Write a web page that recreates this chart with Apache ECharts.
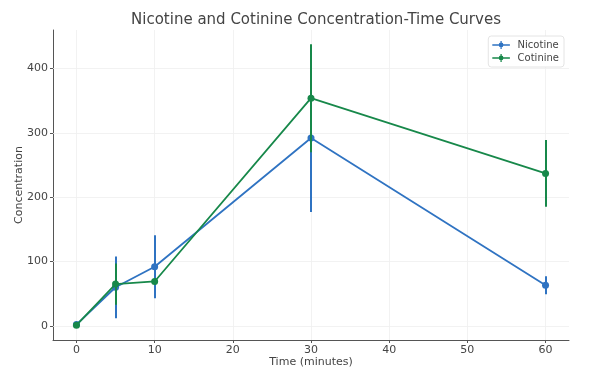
<!DOCTYPE html>
<html>
<head>
<meta charset="utf-8">
<script src="https://cdn.jsdelivr.net/npm/echarts@6/dist/echarts.min.js"></script>
<style>html,body{margin:0;padding:0;background:#fff;}#c{width:606px;height:375px;}</style>
</head>
<body>
<div id="c"></div>
<script>
const time = [0, 5, 10, 30, 60];
const nicotine = [2, 60, 92, 292, 63];
const nicotineErr = [1, 48, 49, 115, 14];
const cotinine = [1, 65, 69, 354, 237];
const cotinineErr = [1, 32, 5, 84, 52];
const xTicks = [0, 10, 20, 30, 40, 50, 60];
const yTicks = [0, 100, 200, 300, 400];

const blue = '#2f73c2';
const green = '#17884a';
const font = 'DejaVu Sans';

function pts(xs, ys) { return xs.map((x, i) => [x, ys[i]]); }
function errData(xs, ys, es) { return xs.map((x, i) => [x, ys[i] - es[i], ys[i] + es[i]]); }

function errSeries(name, color, xs, ys, es, z) {
  return {
    type: 'custom', name: name, z: z, zlevel: 1, silent: true,
    data: errData(xs, ys, es),
    encode: { x: 0, y: [1, 2] },
    renderItem: function (params, api) {
      const a = api.coord([api.value(0), api.value(1)]);
      const b = api.coord([api.value(0), api.value(2)]);
      const x = Math.round(a[0]);
      return { type: 'line', shape: { x1: x, y1: a[1], x2: x, y2: b[1] },
        style: { stroke: color, lineWidth: 2 } };
    }
  };
}
function lineSeries(name, color, xs, ys, z) {
  return {
    type: 'line', name: name, z: z, zlevel: 1, data: pts(xs, ys),
    symbol: 'circle', symbolSize: 7, showSymbol: true,
    lineStyle: { color: color, width: 1.8 },
    itemStyle: { color: color },
    animation: false
  };
}

const gridLines = {
  type: 'line', data: [], silent: true, z: 0, zlevel: 0,
  markLine: {
    silent: true, symbol: 'none', label: { show: false }, animation: false,
    lineStyle: { color: '#efefef', width: 0.8, type: 'solid' },
    data: xTicks.map(v => ({ xAxis: v })).concat(yTicks.map(v => ({ yAxis: v })))
  }
};

const icon = 'path://M0,4.2 L22,4.2 L22,5.8 L0,5.8 Z M10.2,0 L11.8,0 L11.8,10 L10.2,10 Z M14,5 A3,3 0 1 1 8,5 A3,3 0 1 1 14,5 Z';

const chart = echarts.init(document.getElementById('c'), null, { renderer: 'canvas' });
chart.setOption({
  animation: false,
  backgroundColor: '#fff',
  textStyle: { fontFamily: font },
  title: {
    text: 'Nicotine and Cotinine Concentration-Time Curves',
    left: 311, textAlign: 'center', top: 8,
    textStyle: { fontFamily: font, fontSize: 15, fontWeight: 'normal', color: '#444' }
  },
  legend: {
    right: 42, top: 36, orient: 'vertical', zlevel: 2,
    data: [{ name: 'Nicotine', icon: icon, itemStyle: { color: blue } },
           { name: 'Cotinine', icon: icon, itemStyle: { color: green } }],
    itemWidth: 19, itemHeight: 8, itemGap: 3,
    padding: [4, 5, 4, 4],
    borderColor: '#e4e4e4', borderWidth: 1, borderRadius: 3,
    backgroundColor: '#fff',
    textStyle: { fontFamily: font, fontSize: 10, color: '#444', padding: [0, 0, 0, 2] }
  },
  grid: { left: 53, right: 37, top: 30, bottom: 35 },
  xAxis: {
    type: 'value', min: -3, max: 63,
    name: 'Time (minutes)', nameLocation: 'middle', nameGap: 17, nameMoveOverlap: false,
    nameTextStyle: { fontFamily: font, fontSize: 11, color: '#444' },
    axisLine: { show: true, onZero: false, lineStyle: { color: '#555', width: 1 } },
    axisTick: { show: true, length: 3, customValues: xTicks, lineStyle: { color: '#555' } },
    axisLabel: { customValues: xTicks, fontFamily: font, fontSize: 11, color: '#444', margin: 5 },
    splitLine: { show: false }
  },
  yAxis: {
    type: 'value', min: -22, max: 460,
    name: 'Concentration', nameLocation: 'middle', nameGap: 28, nameMoveOverlap: false,
    nameTextStyle: { fontFamily: font, fontSize: 11, color: '#444' },
    axisLine: { show: true, onZero: false, lineStyle: { color: '#555', width: 1 } },
    axisTick: { show: true, length: 3, customValues: yTicks, lineStyle: { color: '#555' } },
    axisLabel: { customValues: yTicks, fontFamily: font, fontSize: 11, color: '#444', margin: 5 },
    splitLine: { show: false }
  },
  series: [
    gridLines,
    errSeries('Nicotine', blue, time, nicotine, nicotineErr, 2),
    lineSeries('Nicotine', blue, time, nicotine, 3),
    errSeries('Cotinine', green, time, cotinine, cotinineErr, 4),
    lineSeries('Cotinine', green, time, cotinine, 5)
  ]
});
</script>
</body>
</html>
